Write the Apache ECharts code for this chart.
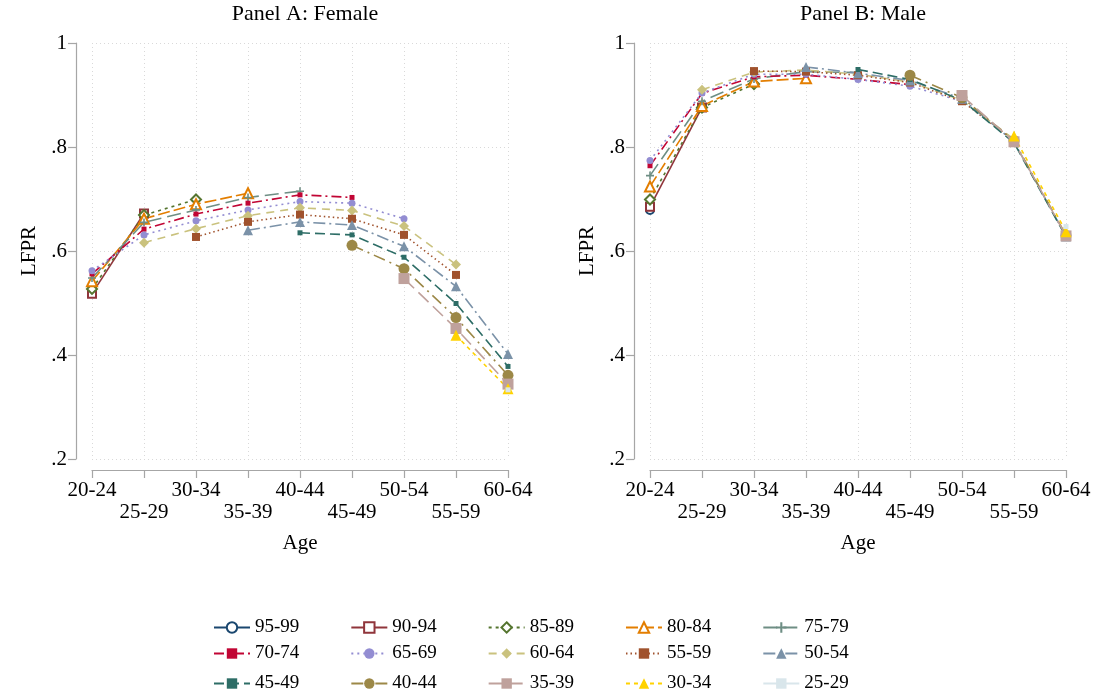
<!DOCTYPE html>
<html>
<head>
<meta charset="utf-8">
<script src="https://cdn.jsdelivr.net/npm/echarts@6/dist/echarts.min.js"></script>
<style>html,body{margin:0;padding:0;background:#fff}#c{width:1096px;height:698px}</style>
</head>
<body>
<div id="c"></div>
<script>
// ---- data ----
const ages = ['20-24','25-29','30-34','35-39','40-44','45-49','50-54','55-59','60-64'];
const cohorts = ['95-99','90-94','85-89','80-84','75-79','70-74','65-69','60-64','55-59','50-54','45-49','40-44','35-39','30-34','25-29'];
const yTicks = [0.2, 0.4, 0.6, 0.8, 1];

// Female LFPR by birth cohort (null = not observed)
const female_95_99 = [0.523, null, null, null, null, null, null, null, null];
const female_90_94 = [0.518, 0.672, null, null, null, null, null, null, null];
const female_85_89 = [0.527, 0.669, 0.699, null, null, null, null, null, null];
const female_80_84 = [0.542, 0.662, 0.690, 0.711, null, null, null, null, null];
const female_75_79 = [0.548, 0.655, 0.679, 0.703, 0.715, null, null, null, null];
const female_70_74 = [0.556, 0.642, 0.671, 0.692, 0.708, 0.703, null, null, null];
const female_65_69 = [0.562, 0.631, 0.658, 0.679, 0.695, 0.692, 0.662, null, null];
const female_60_64 = [null, 0.616, 0.643, 0.668, 0.683, 0.678, 0.648, 0.574, null];
const female_55_59 = [null, null, 0.627, 0.656, 0.670, 0.662, 0.631, 0.554, null];
const female_50_54 = [null, null, null, 0.640, 0.656, 0.650, 0.609, 0.532, 0.402];
const female_45_49 = [null, null, null, null, 0.635, 0.631, 0.588, 0.499, 0.378];
const female_40_44 = [null, null, null, null, null, 0.611, 0.566, 0.472, 0.361];
const female_35_39 = [null, null, null, null, null, null, 0.547, 0.451, 0.344];
const female_30_34 = [null, null, null, null, null, null, null, 0.438, 0.335];
const female_25_29 = [null, null, null, null, null, null, null, null, 0.333];

// Male LFPR by birth cohort
const male_95_99 = [0.679, null, null, null, null, null, null, null, null];
const male_90_94 = [0.685, 0.876, null, null, null, null, null, null, null];
const male_85_89 = [0.699, 0.876, 0.921, null, null, null, null, null, null];
const male_80_84 = [0.724, 0.879, 0.926, 0.932, null, null, null, null, null];
const male_75_79 = [0.745, 0.888, 0.931, 0.945, 0.943, null, null, null, null];
const male_70_74 = [0.764, 0.903, 0.935, 0.938, 0.930, 0.920, null, null, null];
const male_65_69 = [0.774, 0.904, 0.940, 0.940, 0.930, 0.917, 0.888, null, null];
const male_60_64 = [null, 0.910, 0.944, 0.948, 0.940, 0.925, 0.890, 0.815, null];
const male_55_59 = [null, null, 0.946, 0.945, 0.938, 0.924, 0.888, 0.812, null];
const male_50_54 = [null, null, null, 0.954, 0.942, 0.928, 0.893, 0.810, 0.628];
const male_45_49 = [null, null, null, null, 0.949, 0.930, 0.890, 0.808, 0.627];
const male_40_44 = [null, null, null, null, null, 0.938, 0.895, 0.812, 0.630];
const male_35_39 = [null, null, null, null, null, null, 0.899, 0.810, 0.629];
const male_30_34 = [null, null, null, null, null, null, null, 0.821, 0.637];
const male_25_29 = [null, null, null, null, null, null, null, null, 0.647];

const femaleSeries = [female_95_99, female_90_94, female_85_89, female_80_84, female_75_79, female_70_74, female_65_69, female_60_64, female_55_59, female_50_54, female_45_49, female_40_44, female_35_39, female_30_34, female_25_29];
const maleSeries = [male_95_99, male_90_94, male_85_89, male_80_84, male_75_79, male_70_74, male_65_69, male_60_64, male_55_59, male_50_54, male_45_49, male_40_44, male_35_39, male_30_34, male_25_29];

// ---- styles ----
const PLUS = 'path://M4,0H6V4H10V6H6V10H4V6H0V4H4Z';
const styles = [
  {c:'#1a476f', s:'emptyCircle',   z:8,  d:'solid'},
  {c:'#90353b', s:'emptyRect',     z:8,  d:'solid'},
  {c:'#55752f', s:'emptyDiamond',  z:10, d:[3,4]},
  {c:'#e37e00', s:'emptyTriangle', z:10, d:[12,4]},
  {c:'#6e8e84', s:PLUS,            z:8,  d:[14,6]},
  {c:'#c10534', s:'rect',          z:5,  d:[10,4,2,4]},
  {c:'#938dd2', s:'circle',        z:7,  d:[2,4]},
  {c:'#cac27e', s:'diamond',       z:10, d:[8,6]},
  {c:'#a0522d', s:'rect',          z:8,  d:[1.5,3]},
  {c:'#7b92a8', s:'triangle',      z:10, d:[12,4,2,4]},
  {c:'#2d6d66', s:'rect',          z:5,  d:[10,5]},
  {c:'#9c8847', s:'circle',        z:11, d:[12,5,2,5]},
  {c:'#bfa19c', s:'rect',          z:11, d:[14,6]},
  {c:'#ffd200', s:'triangle',      z:11, d:[4,4]},
  {c:'#d9e6eb', s:'rect',          z:5,  d:'solid'}
];

const FONT = 'Liberation Serif';
const chart = echarts.init(document.getElementById('c'), null, {renderer:'canvas'});

function xAxisFor(gi){
  return {
    type:'category', data:ages, gridIndex:gi, boundaryGap:false, offset:11,
    axisLine:{show:true, lineStyle:{color:'#a6a6a6', width:1.2}},
    axisTick:{show:true, alignWithLabel:true, length:8, lineStyle:{color:'#a6a6a6', width:1.2}},
    axisLabel:{interval:0, fontFamily:FONT, fontSize:21, color:'#000', margin:9, lineHeight:22,
      formatter:(v, i) => (i % 2 === 1 ? '\n' + v : v)},
    splitLine:{show:true, lineStyle:{color:'#d9d9d9', type:[1,3], width:1}},
    name:'Age', nameLocation:'middle', nameGap:63,
    nameTextStyle:{fontFamily:FONT, fontSize:21, color:'#000'}
  };
}
function yAxisFor(gi){
  return {
    type:'value', gridIndex:gi, min:0.2, max:1, interval:0.2, offset:16,
    axisLine:{show:true, lineStyle:{color:'#a6a6a6', width:1.2}},
    axisTick:{show:true, length:8, lineStyle:{color:'#a6a6a6', width:1.2}},
    axisLabel:{fontFamily:FONT, fontSize:21, color:'#000', margin:9,
      formatter:v => { const r = Math.round(v*10)/10; return r === 1 ? '1' : String(r).replace(/^0\./,'.'); }},
    splitLine:{show:true, lineStyle:{color:'#d9d9d9', type:[1,3], width:1}},
    name:'LFPR', nameLocation:'middle', nameGap:36, nameRotate:90,
    nameTextStyle:{fontFamily:FONT, fontSize:21, color:'#000'}
  };
}

const series = [];
[femaleSeries, maleSeries].forEach((arr, gi) => {
  arr.forEach((vals, k) => {
    const st = styles[k];
    const empty = String(st.s).indexOf('empty') === 0;
    series.push({
      name: cohorts[k], type:'line', xAxisIndex:gi, yAxisIndex:gi, data: vals,
      connectNulls:false, symbol: st.s, symbolSize: st.z, showAllSymbol:true,
      lineStyle:{color:st.c, width:1.6, type:st.d},
      itemStyle: empty ? {color:st.c, borderWidth:1.7} : {color:st.c, borderColor:st.c, borderWidth:0},
      emphasis:{disabled:true}, animation:false
    });
  });
});

function legendRow(names, top){
  return {
    data: names, top: top, left: 208, orient:'horizontal', itemWidth:36, itemHeight:13, itemGap:51,
    textStyle:{fontFamily:FONT, fontSize:19, color:'#000'},
    selectedMode:false
  };
}

chart.setOption({
  backgroundColor:'#fff',
  animation:false,
  title:[
    {text:'Panel A: Female', left:300, top:-2, textAlign:'center', textStyle:{fontFamily:FONT, fontSize:22, fontWeight:'normal', color:'#000'}},
    {text:'Panel B: Male', left:858, top:-2, textAlign:'center', textStyle:{fontFamily:FONT, fontSize:22, fontWeight:'normal', color:'#000'}}
  ],
  grid:[
    {left:92, right:588, top:43, bottom:239, containLabel:false},
    {left:650, right:30, top:43, bottom:239, containLabel:false}
  ],
  xAxis:[xAxisFor(0), xAxisFor(1)],
  yAxis:[yAxisFor(0), yAxisFor(1)],
  legend:[
    legendRow(cohorts.slice(0,5), 613),
    legendRow(cohorts.slice(5,10), 639),
    legendRow(cohorts.slice(10,15), 669)
  ],
  series: series
});
</script>
</body>
</html>
